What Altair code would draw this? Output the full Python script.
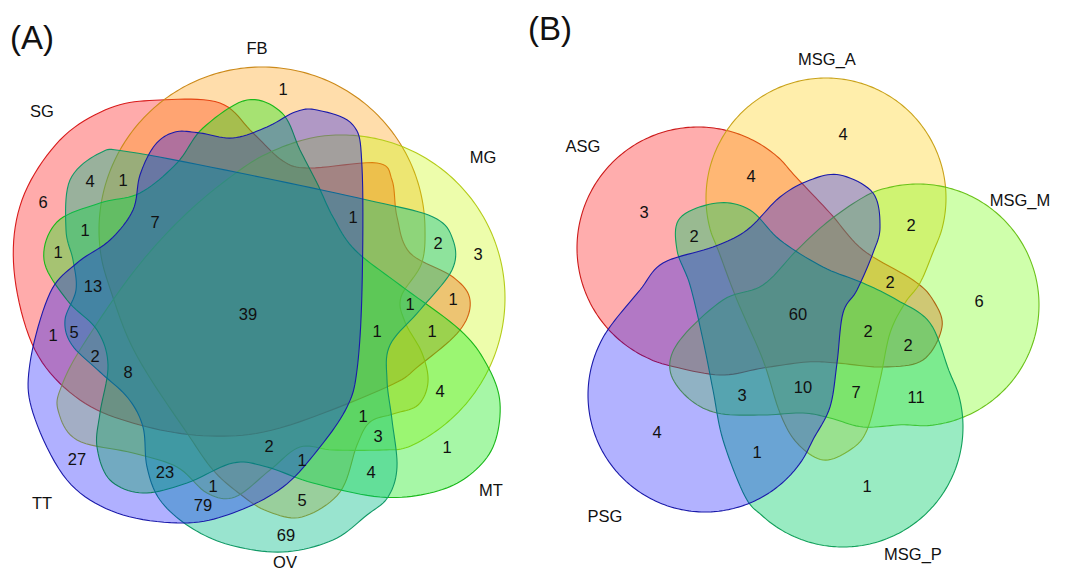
import altair as alt
import numpy as np

# ------------------------------------------------------------------
# DATA: region counts and the names of the sets
# ------------------------------------------------------------------
A_SETS = ["SG", "FB", "MG", "MT", "OV", "TT"]
B_SETS = ["ASG", "MSG_A", "MSG_M", "MSG_P", "PSG"]

A_COUNTS = [6, 4, 1, 1, 1, 13, 7, 1, 1, 2, 3, 39, 1, 5, 2, 8, 1, 1, 1, 1,
            4, 1, 3, 2, 1, 4, 1, 27, 23, 1, 79, 5, 69]
B_COUNTS = [4, 4, 3, 2, 2, 2, 6, 60, 2, 2, 3, 10, 7, 11, 4, 1, 1]

PANEL_TAGS = ["(A)", "(B)"]

# ------------------------------------------------------------------
# LAYOUT (diagram geometry, label anchors) - kept separate from data
# ------------------------------------------------------------------
A_COUNT_POS = [(43, 203), (90, 182), (123, 181), (85, 231), (58, 253), (93, 287),
               (155, 223), (283, 90), (353, 218), (438, 244), (478, 255), (248, 315),
               (53, 336), (74, 333), (95, 357), (128, 373), (377, 332), (410, 305),
               (453, 300), (432, 332), (440, 392), (363, 417), (378, 437), (269, 447),
               (302, 461), (371, 473), (447, 448), (77, 460), (165, 473), (213, 487),
               (203, 506), (302, 501), (286, 536)]
B_COUNT_POS = [(843, 135), (751, 177), (644, 213), (694, 237), (911, 226), (890, 283),
               (979, 302), (798, 315), (868, 332), (908, 346), (742, 396), (803, 388),
               (856, 393), (916, 398), (657, 433), (757, 453), (867, 487)]
A_NAME_POS = [(42, 112), (257, 49), (483, 158), (491, 491), (285, 563), (42, 504)]
B_NAME_POS = [(583, 147), (827, 60), (1020, 201), (913, 555), (605, 517)]
TAG_POS = [(32, 39), (550, 30)]


def arc(cx, cy, r, t0, t1, step=12):
    """Points on a circular arc (angles in degrees, screen orientation)."""
    n = max(2, int(abs(t1 - t0) / step) + 1)
    th = np.radians(np.linspace(t0, t1, n))
    return [(cx + r * np.cos(t), cy + r * np.sin(t)) for t in th]


SHAPES_A = {
    "SG": [(160, 100), (220, 103), (253, 133), (283, 161), (310, 168), (377, 163),
           (392, 180), (397, 217), (410, 253), (453, 277), (470, 300), (460, 330),
           (420, 365), (387, 387), (280, 428), (210, 436), (140, 425), (80, 400),
           (35, 350), (14, 270), (22, 200), (60, 140), (110, 108)],
    "FB": arc(262, 230, 163, 158, 372)
          + [(401, 297), (405, 322), (422, 353), (428, 382), (418, 405),
             (393, 414), (370, 422), (357, 445), (340, 492), (302, 517), (267, 511),
             (240, 494), (213, 470), (187, 433), (150, 378), (128, 338)],
    "MG": arc(342, 298, 163, -100, 66)
          + [(383, 450), (333, 450), (300, 447), (270, 470),
             (235, 497), (207, 493), (177, 467), (133, 453), (77, 440), (58, 410),
             (62, 385), (83, 345), (135, 270), (187, 213), (240, 170), (275, 150)],
    "MT": [(247, 100), (282, 113), (300, 150), (317, 183), (333, 217), (355, 250),
           (400, 285), (460, 330), (487, 365), (500, 403), (493, 447), (467, 477),
           (430, 493), (380, 497), (313, 483), (267, 467), (233, 463), (187, 483),
           (143, 493), (110, 480), (97, 447), (100, 413), (108, 365), (97, 330),
           (67, 300), (44, 260), (57, 222), (100, 203), (140, 193), (177, 163),
           (203, 128)],
    "OV": [(100, 153), (130, 152), (250, 175), (367, 200), (433, 217), (453, 240),
           (452, 270), (420, 310), (390, 345), (387, 380), (392, 420), (397, 467),
           (388, 497), (367, 515), (333, 540), (283, 552), (230, 545), (190, 527),
           (160, 500), (147, 467), (143, 427), (128, 398), (100, 372), (72, 345),
           (65, 320), (76, 290), (73, 260), (66, 230), (70, 180)],
    "TT": [(317, 110), (353, 125), (362, 167), (362, 290), (357, 370), (347, 407),
           (320, 447), (283, 487), (233, 513), (183, 523), (117, 513), (67, 480),
           (33, 413), (30, 363), (50, 293), (77, 263), (110, 240), (133, 210),
           (140, 175), (155, 145), (175, 132), (200, 133), (233, 138), (267, 127),
           (295, 112)],
}
SHAPES_B = {
    "ASG": arc(698, 248, 121, -36, -256)
           + [(720, 375), (763, 368), (807, 362), (837, 363), (883, 367),
              (923, 360), (942, 327), (933, 300), (913, 280), (863, 250), (830, 213)],
    "MSG_A": arc(826, 198, 120, 153, 387)
             + [(920, 283), (905, 303), (890, 333), (880, 380), (867, 430),
                (850, 450), (823, 460), (797, 443), (780, 413), (763, 360), (737, 300)],
    "MSG_M": arc(918, 305, 121, -115, 98)
             + [(863, 427), (830, 418), (803, 413), (763, 415), (717, 413),
                (687, 397), (670, 370), (680, 340), (723, 300), (763, 285),
                (797, 250), (830, 220)],
    "MSG_P": arc(843, 427, 120, -28, 145)
             + [(723, 440), (713, 390), (703, 340), (690, 285), (677, 250),
                (680, 218), (717, 203), (750, 210), (780, 240), (823, 267),
                (863, 283), (897, 300), (930, 323)],
    "PSG": arc(705, 395, 117, 22, 218)
           + [(640, 290), (663, 263), (713, 247), (747, 230), (780, 197),
              (810, 180), (840, 175), (873, 193), (880, 227), (873, 253),
              (857, 290), (843, 313), (837, 363), (830, 407)],
}

NAMES = A_SETS + B_SETS
FILLS = ["rgba(255,0,0,0.33)", "rgba(255,153,0,0.33)", "rgba(200,250,0,0.33)",
         "rgba(20,235,20,0.38)", "rgba(0,187,136,0.40)", "rgba(0,0,255,0.31)",
         "rgba(255,0,0,0.32)", "rgba(255,204,0,0.33)", "rgba(110,255,0,0.33)",
         "rgba(0,204,102,0.40)", "rgba(0,0,255,0.30)"]
STROKES = ["#d81b1b", "#cc8a1a", "#b5cc1a", "#1ab81a", "#119966", "#1a1aaa",
           "#cc1a1a", "#c9a21a", "#6bc21a", "#11a05a", "#1a1aaa"]


def smooth(pts, n=10):
    P = np.array(pts, dtype=float)
    m = len(P)
    out = []
    for i in range(m):
        p0, p1, p2, p3 = P[(i - 1) % m], P[i], P[(i + 1) % m], P[(i + 2) % m]
        for t in np.linspace(0, 1, n, endpoint=False):
            t2, t3 = t * t, t * t * t
            q = 0.5 * (2 * p1 + (-p0 + p2) * t + (2 * p0 - 5 * p1 + 4 * p2 - p3) * t2
                       + (-p0 + 3 * p1 - 3 * p2 + p3) * t3)
            out.append([round(float(q[0]), 2), round(float(q[1]), 2)])
    out.append(out[0])
    return out


features = []
for shapes in (SHAPES_A, SHAPES_B):
    for name, pts in shapes.items():
        features.append({"type": "Feature", "properties": {"name": name},
                         "geometry": {"type": "Polygon", "coordinates": [smooth(pts)]}})

count_rows = ([{"n": c, "px": p[0], "py": p[1]} for c, p in zip(A_COUNTS, A_COUNT_POS)]
              + [{"n": c, "px": p[0], "py": p[1]} for c, p in zip(B_COUNTS, B_COUNT_POS)])
name_rows = ([{"s": s, "px": p[0], "py": p[1]} for s, p in zip(A_SETS, A_NAME_POS)]
             + [{"s": s, "px": p[0], "py": p[1]} for s, p in zip(B_SETS, B_NAME_POS)])
tag_rows = [{"s": s, "px": p[0], "py": p[1]} for s, p in zip(PANEL_TAGS, TAG_POS)]

proj = dict(type="identity", scale=1, translate=[-8, -8])
FONT = "Liberation Sans"

shapes_layer = alt.Chart(alt.Data(values=features)).mark_geoshape(
    strokeWidth=1.1, fillOpacity=1
).encode(
    fill=alt.Fill("properties.name:N", scale=alt.Scale(domain=NAMES, range=FILLS), legend=None),
    stroke=alt.Stroke("properties.name:N", scale=alt.Scale(domain=NAMES, range=STROKES), legend=None),
).project(**proj)

counts_layer = alt.Chart(alt.Data(values=count_rows)).mark_text(
    font=FONT, fontSize=16.5, color="#111", align="center", baseline="middle"
).encode(
    longitude="px:Q", latitude="py:Q", text="n:Q"
).project(**proj)

names_layer = alt.Chart(alt.Data(values=name_rows)).mark_text(
    font=FONT, fontSize=16.5, color="#111", align="center", baseline="middle"
).encode(
    longitude="px:Q", latitude="py:Q", text="s:N"
).project(**proj)

tags_layer = alt.Chart(alt.Data(values=tag_rows)).mark_text(
    font=FONT, fontSize=33, color="#111", align="center", baseline="middle"
).encode(
    longitude="px:Q", latitude="py:Q", text="s:N"
).project(**proj)

chart = alt.layer(shapes_layer, counts_layer, names_layer, tags_layer).properties(
    width=1049, height=564, padding=0, autosize=alt.AutoSizeParams(type="none"),
    background="white"
).configure_view(stroke=None)

chart.save("out.html", embed_options={"renderer": "svg", "actions": False})
